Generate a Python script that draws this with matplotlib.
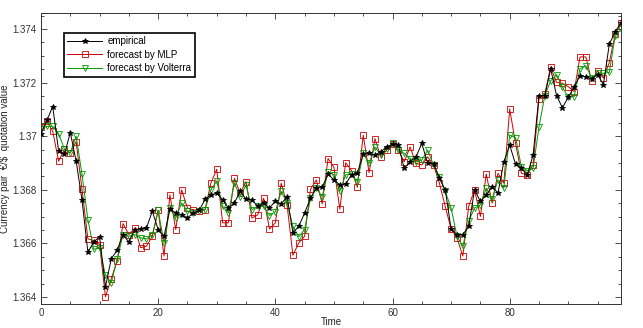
import matplotlib
matplotlib.use("Agg")
import matplotlib.pyplot as plt
from matplotlib.ticker import MultipleLocator, FuncFormatter

plt.rcParams['font.family'] = ['Liberation Sans', 'DejaVu Sans']

time = list(range(100))

empirical = [
    1.37010, 1.37059, 1.37111, 1.36946, 1.36932, 1.37014, 1.36907, 1.36763, 1.36568, 1.36605,
    1.36625, 1.36438, 1.36543, 1.36575, 1.36633, 1.36605, 1.36652, 1.36654, 1.36658, 1.36720,
    1.36652, 1.36627, 1.36728, 1.36714, 1.36707, 1.36695, 1.36714, 1.36723, 1.36765, 1.36781,
    1.36788, 1.36763, 1.36732, 1.36751, 1.36794, 1.36765, 1.36763, 1.36738, 1.36751, 1.36732,
    1.36758, 1.36747, 1.36775, 1.36640, 1.36664, 1.36714, 1.36769, 1.36806, 1.36810, 1.36859,
    1.36837, 1.36819, 1.36822, 1.36856, 1.36863, 1.36933, 1.36936, 1.36930, 1.36942, 1.36960,
    1.36970, 1.36967, 1.36880, 1.36905, 1.36923, 1.36973, 1.36899, 1.36898, 1.36843, 1.36800,
    1.36654, 1.36633, 1.36633, 1.36664, 1.36800, 1.36757, 1.36781, 1.36812, 1.36788, 1.36905,
    1.36967, 1.36896, 1.36880, 1.36856, 1.36930, 1.37152, 1.37152, 1.37251, 1.37152, 1.37106,
    1.37146, 1.37184, 1.37226, 1.37222, 1.37215, 1.37230, 1.37193, 1.37343, 1.37390, 1.37423,
]

mlp = [
    1.37035, 1.37056, 1.37019, 1.36907, 1.36951, 1.36938, 1.36980, 1.36802, 1.36617, 1.36611,
    1.36596, 1.36401, 1.36469, 1.36535, 1.36674, 1.36633, 1.36657, 1.36584, 1.36590, 1.36627,
    1.36723, 1.36553, 1.36781, 1.36652, 1.36800, 1.36732, 1.36726, 1.36722, 1.36726, 1.36825,
    1.36877, 1.36677, 1.36677, 1.36843, 1.36788, 1.36831, 1.36695, 1.36707, 1.36769, 1.36654,
    1.36677, 1.36825, 1.36744, 1.36556, 1.36602, 1.36627, 1.36802, 1.36837, 1.36748, 1.36917,
    1.36884, 1.36728, 1.36901, 1.36872, 1.36810, 1.37004, 1.36864, 1.36991, 1.36923, 1.36948,
    1.36970, 1.36948, 1.36905, 1.36960, 1.36899, 1.36893, 1.36923, 1.36893, 1.36825, 1.36738,
    1.36654, 1.36621, 1.36553, 1.36738, 1.36800, 1.36701, 1.36859, 1.36751, 1.36862, 1.36825,
    1.37102, 1.36973, 1.36862, 1.36856, 1.36893, 1.37140, 1.37158, 1.37259, 1.37201, 1.37198,
    1.37185, 1.37167, 1.37296, 1.37296, 1.37205, 1.37244, 1.37217, 1.37275, 1.37380, 1.37423,
]

volterra = [
    1.37028, 1.37037, 1.37037, 1.37010, 1.36952, 1.36938, 1.37000, 1.36858, 1.36689, 1.36578,
    1.36584, 1.36481, 1.36454, 1.36541, 1.36633, 1.36627, 1.36633, 1.36621, 1.36617, 1.36632,
    1.36723, 1.36602, 1.36732, 1.36695, 1.36751, 1.36720, 1.36714, 1.36720, 1.36726, 1.36800,
    1.36833, 1.36738, 1.36714, 1.36825, 1.36775, 1.36819, 1.36726, 1.36738, 1.36738, 1.36704,
    1.36719, 1.36794, 1.36751, 1.36664, 1.36625, 1.36652, 1.36769, 1.36806, 1.36775, 1.36868,
    1.36856, 1.36794, 1.36856, 1.36859, 1.36831, 1.36936, 1.36899, 1.36960, 1.36930, 1.36954,
    1.36973, 1.36948, 1.36936, 1.36917, 1.36905, 1.36911, 1.36948, 1.36893, 1.36849, 1.36794,
    1.36732, 1.36627, 1.36590, 1.36683, 1.36732, 1.36744, 1.36806, 1.36765, 1.36837, 1.36806,
    1.37004, 1.36995, 1.36886, 1.36872, 1.36880, 1.37035, 1.37152, 1.37207, 1.37230, 1.37183,
    1.37146, 1.37148, 1.37252, 1.37263, 1.37217, 1.37235, 1.37235, 1.37238, 1.37374, 1.37399,
]

labels = ['empirical', 'forecast by MLP', 'forecast by Volterra']

fig = plt.figure(figsize=(6.43, 3.28), dpi=100)
ax = fig.add_axes([41 / 643, 24 / 328, 580 / 643, 291 / 328])

ax.plot(time, empirical, color='black', lw=0.7, marker='*', ms=4, mew=0.6, label=labels[0], zorder=3)
ax.plot(time, mlp, color='#cc0000', lw=0.7, marker='s', ms=3.8, mfc='none', mew=0.6, label=labels[1], zorder=2)
ax.plot(time, volterra, color='#009a00', lw=0.7, marker='v', ms=3.8, mfc='none', mew=0.6, label=labels[2], zorder=2)

ax.set_xlim(0, 99)
ax.set_ylim(1.36374, 1.37460)
ax.xaxis.set_major_locator(MultipleLocator(20))
ax.xaxis.set_minor_locator(MultipleLocator(5))
ax.yaxis.set_major_locator(MultipleLocator(0.002))
ax.yaxis.set_minor_locator(MultipleLocator(0.0005))
ax.yaxis.set_major_formatter(FuncFormatter(lambda v, p: '%g' % round(v, 4)))
ax.tick_params(which='both', direction='in', top=True, right=True, labelsize=7,
               colors='#333333', width=0.6, pad=3)
ax.tick_params(which='major', length=4)
ax.tick_params(which='minor', length=2)
for s in ax.spines.values():
    s.set_linewidth(0.7)
    s.set_color('#333333')

ax.set_xlabel('Time', fontsize=7, color='#222222')
ax.xaxis.set_label_coords(0.5, -0.044)
ax.set_ylabel('Currency pair  €/$  quotation value', fontsize=7, color='#222222')
ax.yaxis.set_label_coords(-0.054, 0.5)

leg = ax.legend(loc='upper left', bbox_to_anchor=(23 / 580, 271 / 291), borderaxespad=0,
                fontsize=7, frameon=True, fancybox=False, handlelength=3.6,
                borderpad=0.35, labelspacing=0.35, handletextpad=0.5)
leg.get_frame().set_edgecolor('black')
leg.get_frame().set_linewidth(1.2)
leg.get_frame().set_alpha(1)

fig.savefig('out.png', dpi=100)
